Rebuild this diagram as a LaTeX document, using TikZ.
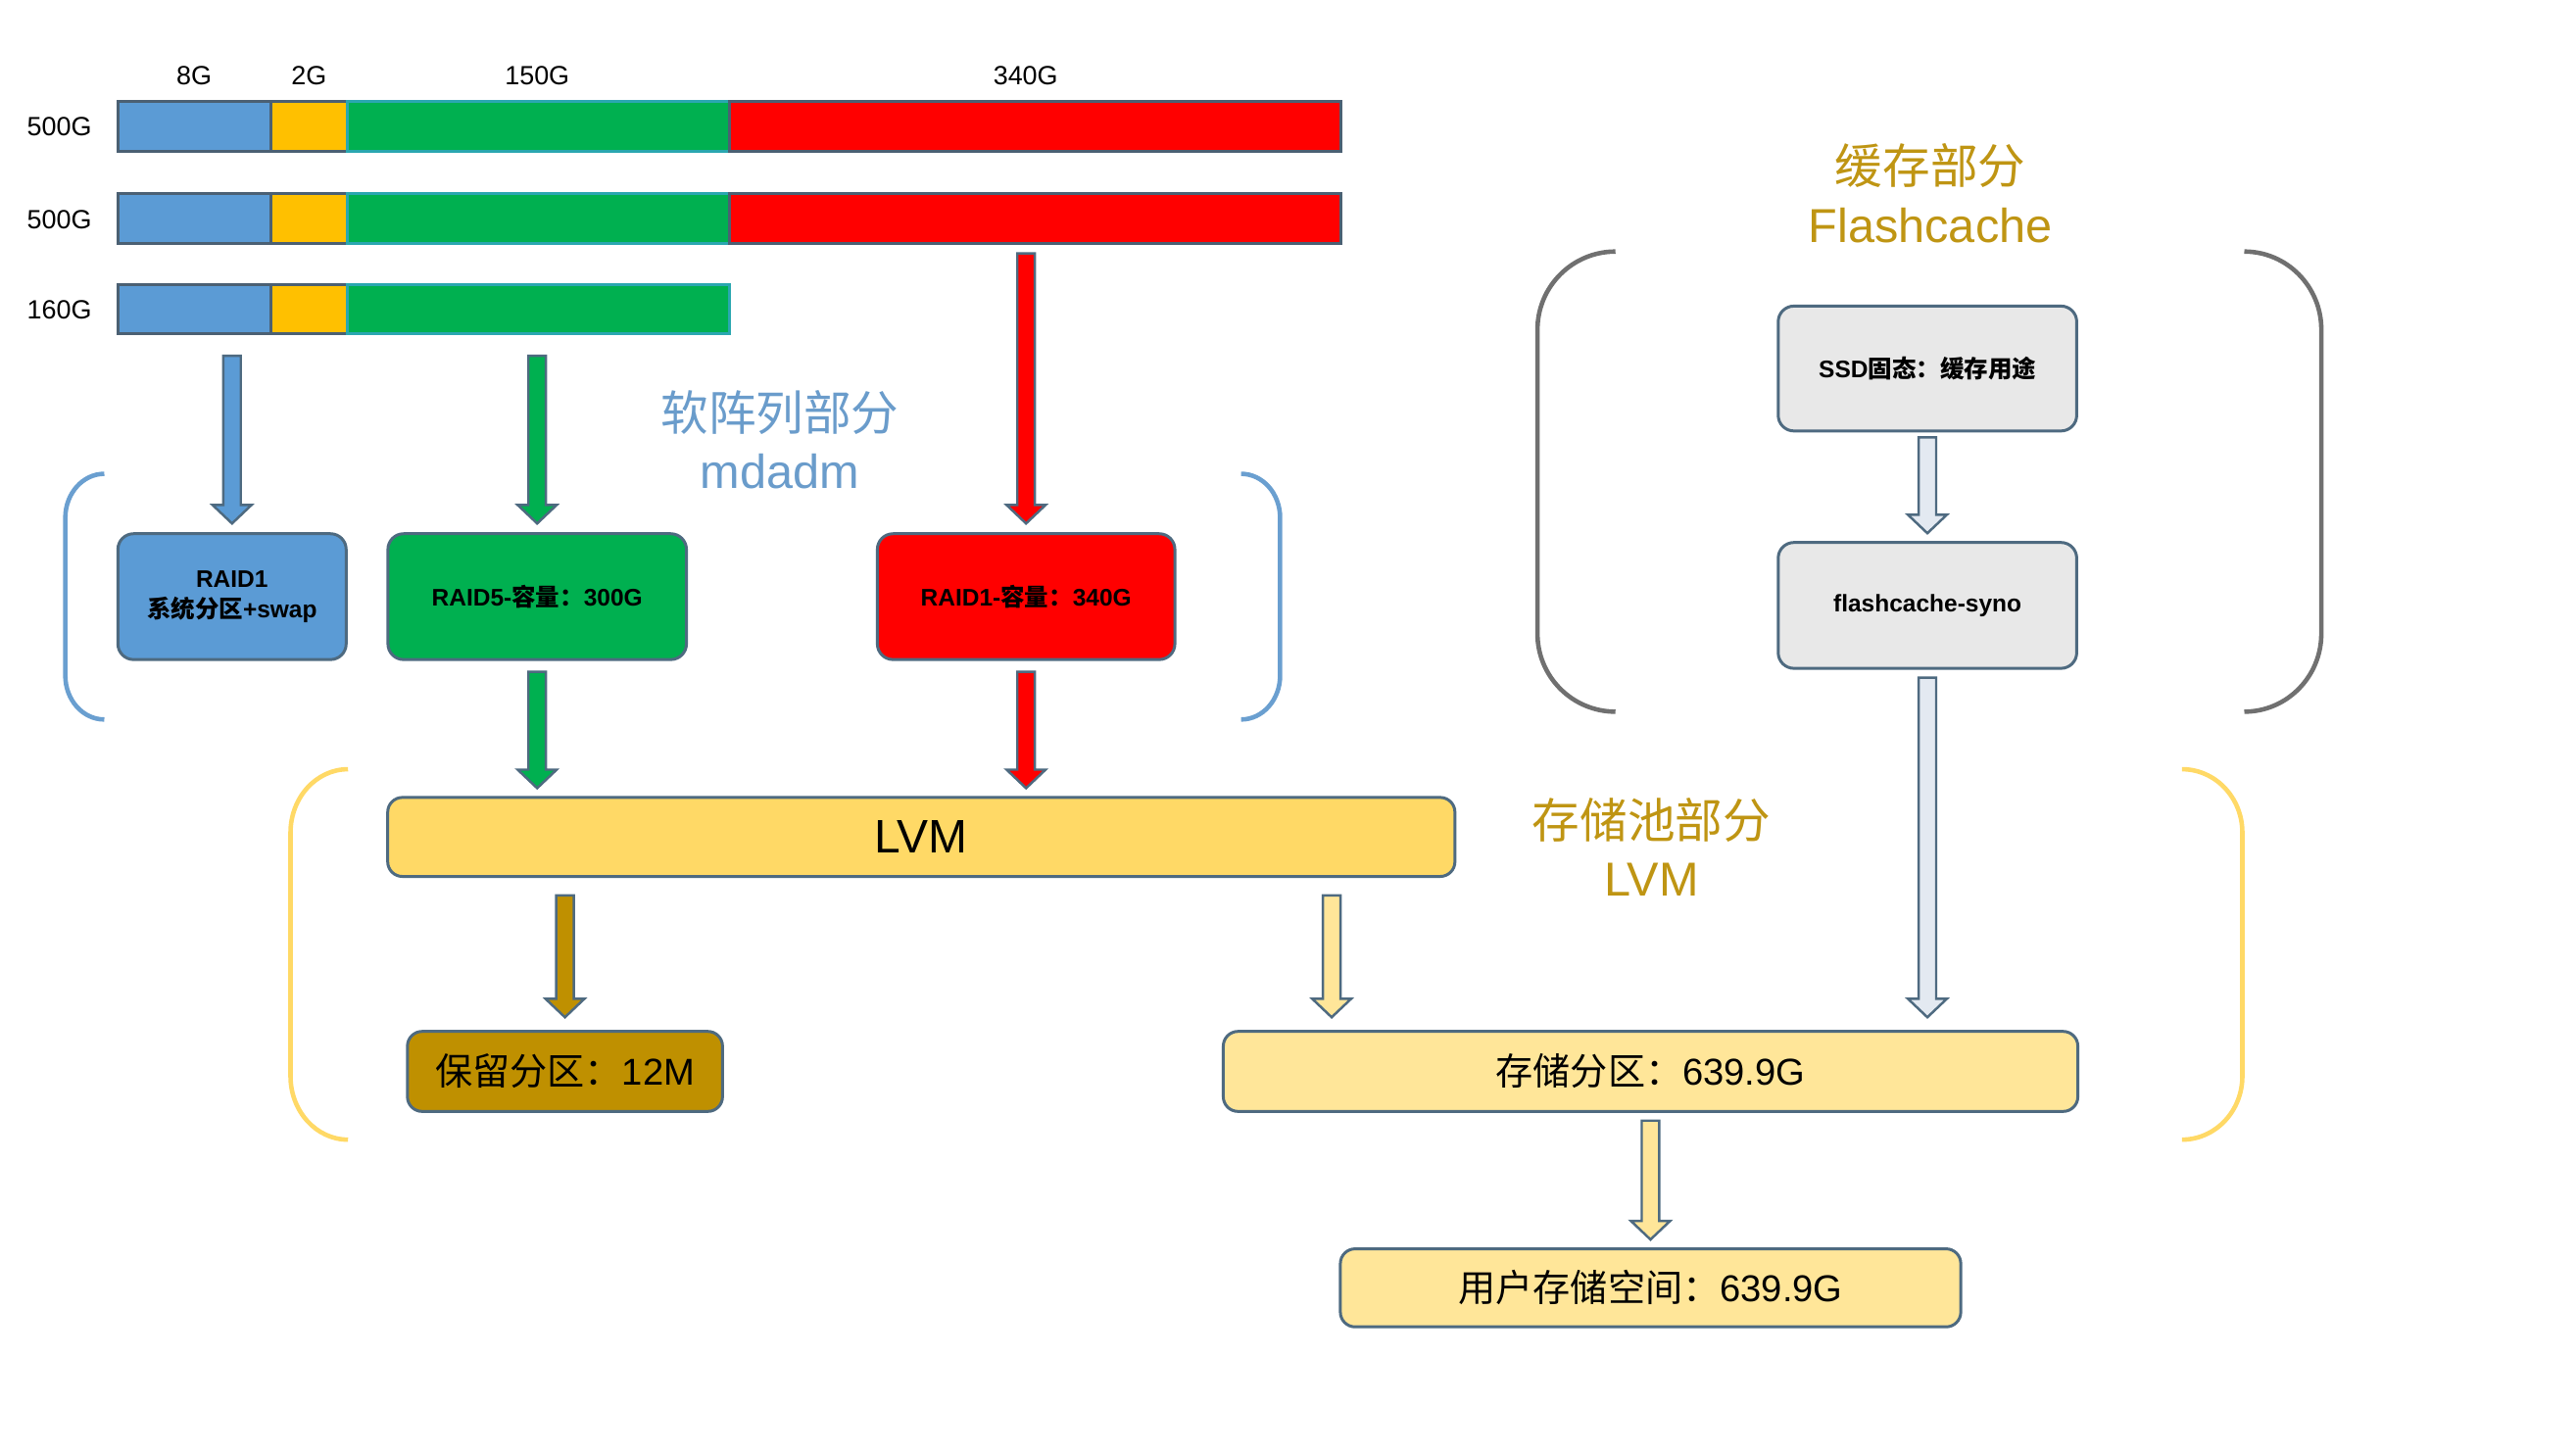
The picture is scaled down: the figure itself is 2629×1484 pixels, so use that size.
\documentclass[tikz,border=0pt]{standalone}
\usepackage{fontspec}
\setmainfont{Liberation Sans}
\newfontfamily\cjk{Noto Sans CJK SC}
\usetikzlibrary{calc}
\definecolor{cblue}{HTML}{5B9BD5}
\definecolor{cyel}{HTML}{FFC000}
\definecolor{cgreen}{HTML}{00B050}
\definecolor{cred}{HTML}{FF0000}
\definecolor{cbar}{HTML}{4B6073}
\definecolor{cgline}{HTML}{2AA7B0}
\definecolor{cbord}{HTML}{4E6A80}
\definecolor{cgray}{HTML}{E8E8E8}
\definecolor{cgarr}{HTML}{E3E9F1}
\definecolor{clvm}{HTML}{FFD966}
\definecolor{clight}{HTML}{FFE699}
\definecolor{cbrown}{HTML}{BF9000}
\definecolor{cgold}{HTML}{BF9513}
\definecolor{csteel}{HTML}{6A9CCB}
\definecolor{cbrk}{HTML}{707070}
\definecolor{cbbrk}{HTML}{6A9FD0}
\definecolor{cybrk}{HTML}{FFD966}
\newcommand\myarr[3]{%
  \filldraw[arr,#1] let \p1=#2, \p2=#3 in
  ({\x1-0.09cm},\y1) -- ({\x1+0.09cm},\y1) -- ({\x1+0.09cm},{\y2+0.19cm}) --
  ({\x1+0.2cm},{\y2+0.19cm}) -- (\x1,\y2) -- ({\x1-0.2cm},{\y2+0.19cm}) --
  ({\x1-0.09cm},{\y2+0.19cm}) -- cycle;}
\newcommand\mybrk[6]{%
  \draw[#1] (#2,#4) .. controls ({#2-0.552*(#2-#3)},#4) and (#3,{#4+0.448*#6}) .. (#3,{#4+#6})
  -- (#3,{#5-#6}) .. controls (#3,{#5-0.448*#6}) and ({#2-0.552*(#2-#3)},#5) .. (#2,#5);}
\begin{document}
\begin{tikzpicture}[x=0.01cm,y=-0.01cm,
  seg/.style={draw=cbar,line width=0.85pt,minimum height=0.51cm,inner sep=0pt},
  lbl/.style={font=\fontsize{7.7pt}{9pt}\selectfont},
  rbox/.style={draw=cbord,line width=0.85pt,rounded corners=0.16cm,inner sep=0pt,
    align=center,font=\fontsize{7pt}{8.8pt}\selectfont\bfseries,minimum height=1.29cm},
  lbox/.style={draw=cbord,line width=0.85pt,rounded corners=0.15cm,inner sep=0pt,
    align=center,font=\fontsize{10.9pt}{13pt}\selectfont,minimum height=0.81cm},
  sec/.style={font=\fontsize{13.9pt}{17pt}\selectfont},
  arr/.style={draw=cbord,line width=0.7pt},
  brk/.style={line width=1.3pt}]
\useasboundingbox[fill=white] (0,0) rectangle (2629,1484);
\begin{scope}[scale=0.995,transform shape]
% disk bars
\foreach \r/\yy in {1/130,2/224,3/317}{
  \node[seg,fill=cblue,minimum width=1.57cm] (b\r b) at (199.5,\yy) {};
  \node[seg,fill=cyel,minimum width=0.78cm] (b\r y) at (317,\yy) {};
  \node[seg,fill=cgreen,draw=cgline,minimum width=3.92cm] (b\r g) at (552,\yy) {};
}
\node[seg,fill=cred,minimum width=6.27cm] (b1r) at (1061.5,130) {};
\node[seg,fill=cred,minimum width=6.27cm] (b2r) at (1061.5,224) {};

\node[lbl] (t8) at (199,78) {8G};
\node[lbl] (t2) at (317,78) {2G};
\node[lbl] (t150) at (551,78) {150G};
\node[lbl] (t340) at (1052,78) {340G};
\node[lbl] (d1) at (61,130) {500G};
\node[lbl] (d2) at (61,225) {500G};
\node[lbl] (d3) at (61,318) {160G};

% RAID boxes
\node[rbox,fill=cblue,minimum width=2.34cm] (r1) at (238,612) {RAID1\\{\cjk 系统分区}+swap};
\node[rbox,fill=cgreen,minimum width=3.06cm] (r5) at (551,612) {RAID5-{\cjk 容量：}300G};
\node[rbox,fill=cred,minimum width=3.05cm] (r2) at (1052.5,612) {RAID1-{\cjk 容量：}340G};

\node[sec,text=csteel] (s1a) at (800,423) {\cjk 软阵列部分};
\node[sec,text=csteel] (s1b) at (800,484) {mdadm};

% cache part
\node[sec,text=cgold] (s2a) at (1980,170) {\cjk 缓存部分};
\node[sec,text=cgold] (s2b) at (1980,231) {Flashcache};
\node[rbox,fill=cgray,minimum width=3.06cm,minimum height=1.28cm] (ssd) at (1977,378) {SSD{\cjk 固态：缓存用途}};
\node[rbox,fill=cgray,minimum width=3.06cm,minimum height=1.29cm] (fc) at (1977,621) {flashcache-syno};

% storage pool
\node[lbox,fill=clvm,minimum width=10.94cm,font=\fontsize{13.7pt}{16pt}\selectfont] (lvm) at (945,858.5) {LVM};
\node[sec,text=cgold] (s3a) at (1694,841) {\cjk 存储池部分};
\node[sec,text=cgold] (s3b) at (1694,902) {LVM};
\node[lbox,fill=cbrown,minimum width=3.23cm,minimum height=0.82cm] (res) at (579.5,1099) {{\cjk 保留分区：}12M};
\node[lbox,fill=clight,minimum width=8.76cm,minimum height=0.82cm] (sto) at (1693,1099) {{\cjk 存储分区：}639.9G};
\node[lbox,fill=clight,minimum width=6.36cm,minimum height=0.80cm] (usr) at (1693,1321) {{\cjk 用户存储空间：}639.9G};
\coordinate (lvmr) at ($(lvm.south)+(421,0)$);

% arrows
\myarr{fill=cblue}{($(r1.north |- b3b.south)+(0,21)$)}{($(r1.north)+(0,-9)$)}
\myarr{fill=cgreen}{($(r5.north |- b3g.south)+(0,21)$)}{($(r5.north)+(0,-9)$)}
\myarr{fill=cred}{($(r2.north |- b2r.south)+(0,9)$)}{($(r2.north)+(0,-9)$)}
\myarr{fill=cgreen}{($(r5.south)+(0,11)$)}{($(r5.south |- lvm.north)+(0,-8)$)}
\myarr{fill=cred}{($(r2.south)+(0,11)$)}{($(r2.south |- lvm.north)+(0,-8)$)}
\myarr{fill=cbrown}{($(res.north |- lvm.south)+(0,18)$)}{($(res.north)+(0,-13)$)}
\myarr{fill=clight}{($(lvmr)+(0,18)$)}{($(lvmr |- sto.north)+(0,-13)$)}
\myarr{fill=cgarr}{($(ssd.south)+(0,5)$)}{($(fc.north)+(0,-8)$)}
\myarr{fill=cgarr}{($(fc.south)+(0,8)$)}{($(fc.south |- sto.north)+(0,-13)$)}
\myarr{fill=clight}{($(sto.south)+(0,8)$)}{($(usr.north)+(0,-8)$)}

% brackets
\mybrk{brk,draw=cbbrk}{107}{67}{486}{738}{45}
\mybrk{brk,draw=cbbrk}{1273}{1313}{486}{738}{45}
\mybrk{brk,draw=cbrk}{1657}{1577}{258}{730}{80}
\mybrk{brk,draw=cbrk}{2302}{2381}{258}{730}{80}
\mybrk{brk,draw=cybrk}{357}{298}{789}{1169}{65}
\mybrk{brk,draw=cybrk}{2238}{2300}{789}{1169}{65}
\end{scope}
\end{tikzpicture}
\end{document}
